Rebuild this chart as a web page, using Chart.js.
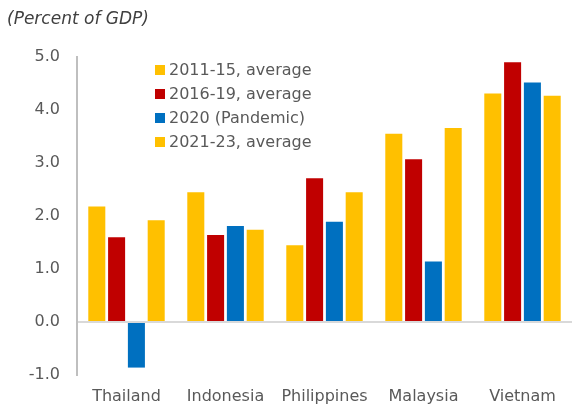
<!DOCTYPE html>
<html>
<head>
<meta charset="utf-8">
<script src="https://cdn.jsdelivr.net/npm/chart.js@4"></script>
<style>
  body { margin: 0; background: #fff; font-family: "DejaVu Sans", sans-serif; }
  #wrap { position: relative; width: 572px; height: 409px; }
  #title { position: absolute; left: 7px; top: 8px; font-size: 17px; font-style: italic; color: #404040; }
  #legend { position: absolute; left: 155px; top: 60px; font-size: 16px; color: #595959; }
  #legend div { height: 24px; line-height: 20px; white-space: nowrap; }
  #legend span { display: inline-block; width: 10px; height: 10px; margin-right: 4px; vertical-align: 0px; }
</style>
</head>
<body>
<div id="wrap">
  <canvas id="chart" width="572" height="409"></canvas>
  <div id="title">(Percent of GDP)</div>
  <div id="legend"></div>
</div>
<script>
var countries = ["Thailand", "Indonesia", "Philippines", "Malaysia", "Vietnam"];
var seriesNames = ["2011-15, average", "2016-19, average", "2020 (Pandemic)", "2021-23, average"];
var avg2011_15 = [2.18, 2.45, 1.45, 3.55, 4.31];
var avg2016_19 = [1.60, 1.64, 2.71, 3.07, 4.90];
var pandemic2020 = [-0.86, 1.81, 1.89, 1.14, 4.52];
var avg2021_23 = [1.92, 1.74, 2.45, 3.66, 4.27];
var colors = ['#FFC000', '#C00000', '#0070C0', '#FFC000'];

var values = [avg2011_15, avg2016_19, pandemic2020, avg2021_23];
var datasets = seriesNames.map(function (name, i) {
    return {
        label: name,
        data: values[i],
        backgroundColor: colors[i],
        categoryPercentage: 0.8,
        barPercentage: 0.86
    };
});

// legend as plain html
var legend = document.getElementById('legend');
seriesNames.forEach(function (name, i) {
    var row = document.createElement('div');
    row.innerHTML = '<span style="background:' + colors[i] + '"></span>' + name;
    legend.appendChild(row);
});

var ctx = document.getElementById('chart').getContext('2d');
var chart = new Chart(ctx, {
    type: 'bar',
    data: { labels: countries, datasets: datasets },
    options: {
        responsive: false,
        animation: false,
        layout: { padding: { top: 57, right: 0, bottom: 0, left: 0 } },
        plugins: { legend: { display: false }, tooltip: { enabled: false } },
        scales: {
            x: {
                afterFit: function (scale) { scale.height = 34; },
                grid: { display: false, drawTicks: false },
                border: { display: false },
                ticks: { color: '#595959', font: { family: 'DejaVu Sans', size: 16 }, padding: 12 }
            },
            y: {
                min: -1,
                max: 5,
                afterFit: function (scale) { scale.width = 77; },
                ticks: {
                    stepSize: 1,
                    color: '#595959',
                    padding: 17,
                    font: { family: 'DejaVu Sans', size: 16 },
                    callback: function (v) { return v.toFixed(1); }
                },
                border: { display: true, color: '#BFBFBF', width: 2 },
                grid: {
                    drawTicks: false,
                    lineWidth: 2,
                    color: function (c) { return c.tick && c.tick.value === 0 ? '#D9D9D9' : 'rgba(0,0,0,0)'; }
                }
            }
        }
    }
});
</script>
</body>
</html>
